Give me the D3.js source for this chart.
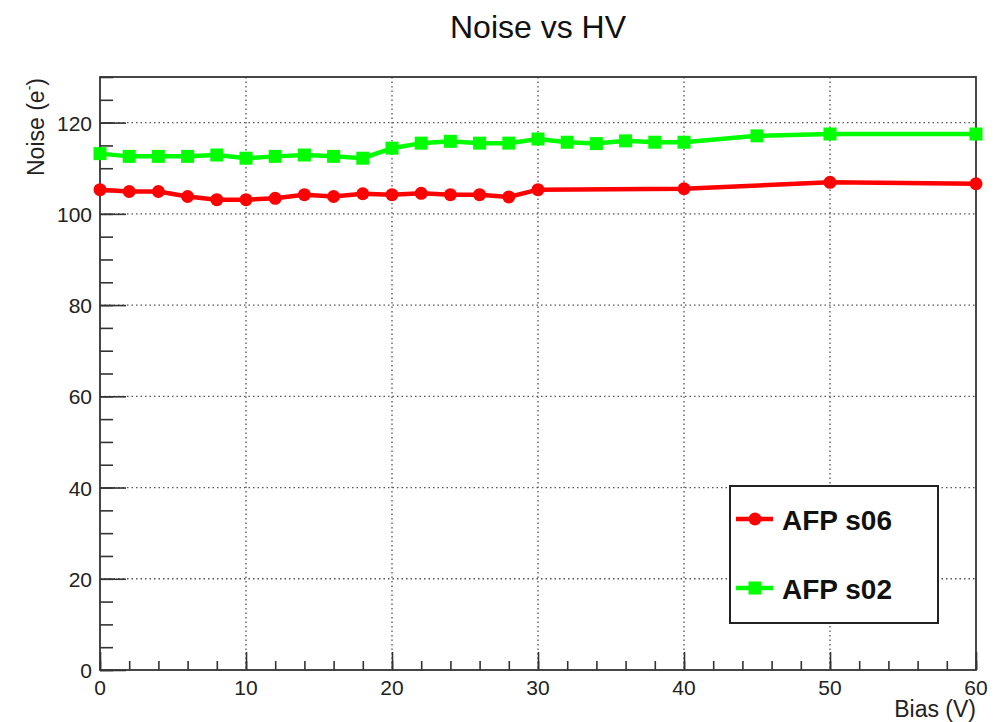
<!DOCTYPE html>
<html>
<head>
<meta charset="utf-8">
<script src="https://cdn.jsdelivr.net/npm/d3@7"></script>
<style>
  html, body { margin: 0; padding: 0; background: #fff; }
  svg { display: block; font-family: "Liberation Sans", Arial, sans-serif; }
</style>
</head>
<body>
<svg id="chart" width="1000" height="722"></svg>
<script>
// Noise measured against bias voltage for two AFP sensors
const biasS06 = [0, 2, 4, 6, 8, 10, 12, 14, 16, 18, 20, 22, 24, 26, 28, 30, 40, 50, 60];
const noiseS06 = [105.3, 104.9, 104.9, 103.8, 103.1, 103.1, 103.4, 104.2, 103.8, 104.4,
                  104.2, 104.5, 104.2, 104.2, 103.7, 105.3, 105.5, 106.9, 106.6];

const biasS02 = [0, 2, 4, 6, 8, 10, 12, 14, 16, 18, 20, 22, 24, 26, 28, 30, 32, 34, 36, 38, 40, 45, 50, 60];
const noiseS02 = [113.2, 112.6, 112.6, 112.6, 112.9, 112.2, 112.6, 112.9, 112.6, 112.2,
                  114.4, 115.5, 115.9, 115.5, 115.5, 116.4, 115.7, 115.4, 116.0, 115.7,
                  115.7, 117.1, 117.5, 117.5];

const xTicks = [0, 10, 20, 30, 40, 50, 60];
const yTicks = [0, 20, 40, 60, 80, 100, 120];
const seriesNames = ["AFP s06", "AFP s02"];

const svg = d3.select("#chart");
const plotLeft = 100, plotRight = 976, plotTop = 77, plotBottom = 670;

const x = d3.scaleLinear().domain([0, 60]).range([plotLeft, plotRight]);
const y = d3.scaleLinear().domain([0, 130]).range([plotBottom, plotTop]);

// Title
svg.append("text")
  .attr("x", 538).attr("y", 38)
  .attr("text-anchor", "middle")
  .attr("font-size", 32)
  .attr("fill", "#111")
  .text("Noise vs HV");

// Dotted grid at major ticks
const grid = svg.append("g")
  .attr("stroke", "#555")
  .attr("stroke-width", 1.3)
  .attr("stroke-dasharray", "1.5,3");
grid.selectAll("line.gx").data(xTicks.filter(d => d > 0 && d < 60)).join("line")
  .attr("class", "gx")
  .attr("x1", d => x(d)).attr("x2", d => x(d))
  .attr("y1", plotTop).attr("y2", plotBottom);
grid.selectAll("line.gy").data(yTicks.filter(d => d > 0)).join("line")
  .attr("class", "gy")
  .attr("x1", plotLeft).attr("x2", plotRight)
  .attr("y1", d => y(d)).attr("y2", d => y(d));

// Axes with major and minor ticks drawn inward
const xAxisMinor = d3.axisTop(x).tickValues(d3.range(0, 61, 2)).tickSize(9).tickFormat("");
const xAxisMajor = d3.axisTop(x).tickValues(xTicks).tickSize(18).tickFormat("");
const yAxisMinor = d3.axisRight(y).tickValues(d3.range(0, 131, 5)).tickSize(13).tickFormat("");
const yAxisMajor = d3.axisRight(y).tickValues(yTicks).tickSize(26).tickFormat("");

function styleAxis(g) {
  g.select(".domain").remove();
  g.selectAll(".tick line").attr("stroke", "#333").attr("stroke-width", 1.6);
}
svg.append("g").attr("transform", `translate(0,${plotBottom})`).call(xAxisMinor).call(styleAxis);
svg.append("g").attr("transform", `translate(0,${plotBottom})`).call(xAxisMajor).call(styleAxis);
svg.append("g").attr("transform", `translate(${plotLeft},0)`).call(yAxisMinor).call(styleAxis);
svg.append("g").attr("transform", `translate(${plotLeft},0)`).call(yAxisMajor).call(styleAxis);

// Frame
svg.append("rect")
  .attr("x", plotLeft).attr("y", plotTop)
  .attr("width", plotRight - plotLeft).attr("height", plotBottom - plotTop)
  .attr("fill", "none").attr("stroke", "#333").attr("stroke-width", 1.8);

// Tick labels
svg.append("g").selectAll("text").data(xTicks).join("text")
  .attr("x", d => x(d)).attr("y", 695)
  .attr("text-anchor", "middle")
  .attr("font-size", 21).attr("fill", "#222")
  .text(d => d);
svg.append("g").selectAll("text").data(yTicks).join("text")
  .attr("x", 92).attr("y", d => y(d) + 8)
  .attr("text-anchor", "end")
  .attr("font-size", 21).attr("fill", "#222")
  .text(d => d);

// Axis titles
svg.append("text")
  .attr("x", plotRight).attr("y", 717)
  .attr("text-anchor", "end")
  .attr("font-size", 23).attr("fill", "#222")
  .text("Bias (V)");
const yTitle = svg.append("text")
  .attr("transform", "translate(44,78) rotate(-90)")
  .attr("text-anchor", "end")
  .attr("font-size", 23).attr("fill", "#222");
yTitle.append("tspan").text("Noise (e");
yTitle.append("tspan").attr("font-size", 14).attr("dy", -10).text("-");
yTitle.append("tspan").attr("dy", 10).text(")");

// Series
const line = d3.line().x(d => x(d[0])).y(d => y(d[1]));
const s06 = biasS06.map((b, i) => [b, noiseS06[i]]);
const s02 = biasS02.map((b, i) => [b, noiseS02[i]]);

svg.append("path").datum(s02)
  .attr("d", line).attr("fill", "none")
  .attr("stroke", "#00ff00").attr("stroke-width", 4.5);
svg.append("g").selectAll("rect").data(s02).join("rect")
  .attr("x", d => x(d[0]) - 6.5).attr("y", d => y(d[1]) - 6.5)
  .attr("width", 13).attr("height", 13)
  .attr("fill", "#00ff00");

svg.append("path").datum(s06)
  .attr("d", line).attr("fill", "none")
  .attr("stroke", "#ff0000").attr("stroke-width", 4.5);
svg.append("g").selectAll("circle").data(s06).join("circle")
  .attr("cx", d => x(d[0])).attr("cy", d => y(d[1]))
  .attr("r", 6.5).attr("fill", "#ff0000");

// Legend
const legend = svg.append("g");
legend.append("rect")
  .attr("x", 730).attr("y", 486).attr("width", 208).attr("height", 137)
  .attr("fill", "#fff").attr("stroke", "#222").attr("stroke-width", 2);

legend.append("line")
  .attr("x1", 736).attr("x2", 773).attr("y1", 519).attr("y2", 519)
  .attr("stroke", "#ff0000").attr("stroke-width", 4.5);
legend.append("circle")
  .attr("cx", 755).attr("cy", 519).attr("r", 6.5).attr("fill", "#ff0000");
legend.append("text")
  .attr("x", 782).attr("y", 530)
  .attr("font-size", 28).attr("font-weight", "bold").attr("fill", "#111")
  .text(seriesNames[0]);

legend.append("line")
  .attr("x1", 736).attr("x2", 773).attr("y1", 588).attr("y2", 588)
  .attr("stroke", "#00ff00").attr("stroke-width", 4.5);
legend.append("rect")
  .attr("x", 748.5).attr("y", 581.5).attr("width", 13).attr("height", 13).attr("fill", "#00ff00");
legend.append("text")
  .attr("x", 782).attr("y", 599)
  .attr("font-size", 28).attr("font-weight", "bold").attr("fill", "#111")
  .text(seriesNames[1]);
</script>
</body>
</html>
